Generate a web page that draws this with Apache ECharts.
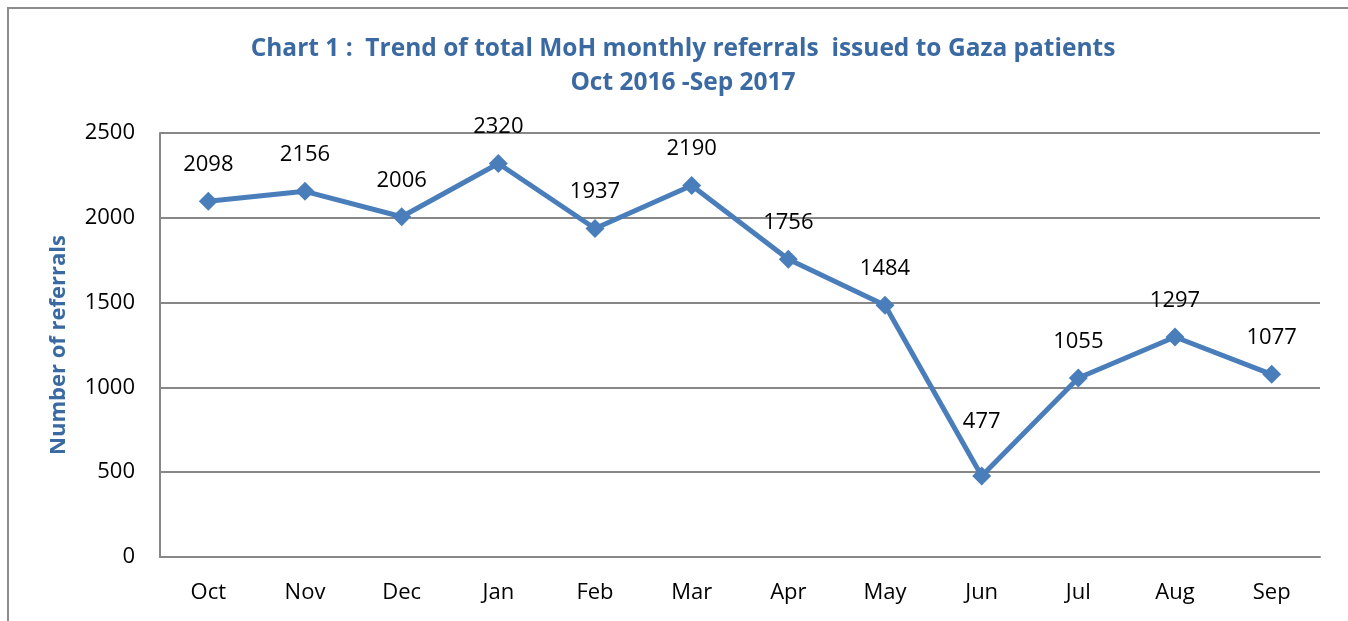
<!DOCTYPE html>
<html><head><meta charset="utf-8">
<script src="https://cdn.jsdelivr.net/npm/echarts@6/dist/echarts.min.js"></script>
<style>
html,body{margin:0;padding:0;background:#fff;}
#frame{position:absolute;left:7px;top:7px;width:1400px;height:700px;border:2px solid #8c8c8c;box-sizing:border-box;}
#c{position:absolute;left:0;top:0;width:1348px;height:621px;}
</style></head>
<body>
<div id="frame"></div>
<div id="c"></div>
<script>
const months = ['Oct','Nov','Dec','Jan','Feb','Mar','Apr','May','Jun','Jul','Aug','Sep'];
const referrals = [2098,2156,2006,2320,1937,2190,1756,1484,477,1055,1297,1077];
const yTicks = [0,500,1000,1500,2000,2500];
const titleText = 'Chart 1 :  Trend of total MoH monthly referrals  issued to Gaza patients\nOct 2016 -Sep 2017';
const yName = 'Number of referrals';

const chart = echarts.init(document.getElementById('c'));
const font = 'Open Sans';
// Label for the Jun point sits higher to clear the V of the line
const seriesData = referrals.map((v, i) => months[i] === 'Jun'
  ? {value: v, label: {distance: 34}}
  : v);
chart.setOption({
  backgroundColor: 'transparent',
  animation: false,
  title: {
    text: titleText, left: 678, top: 27, textAlign: 'center',
    textStyle: {fontFamily: font, fontWeight: 'bold', fontSize: 24.5, color: '#3b6aa2', lineHeight: 34}
  },
  grid: {left: 160, right: 28, top: 133, bottom: 64},
  xAxis: {
    type: 'category', data: months, boundaryGap: true,
    axisLine: {lineStyle: {color: '#878787', width: 2}},
    axisTick: {show: false},
    axisLabel: {fontFamily: font, fontSize: 22, color: '#000', margin: 25}
  },
  yAxis: {
    type: 'value', min: yTicks[0], max: yTicks[yTicks.length-1], interval: 500,
    name: yName, nameLocation: 'middle', nameGap: 90, nameRotate: 90,
    nameTextStyle: {fontFamily: font, fontWeight: 'bold', fontSize: 22, color: '#3b6aa2'},
    axisLine: {show: true, lineStyle: {color: '#878787', width: 2}},
    axisTick: {show: false},
    splitLine: {lineStyle: {color: '#878787', width: 2}},
    axisLabel: {fontFamily: font, fontSize: 22, color: '#000', margin: 25, formatter: v => String(v)}
  },
  series: [{
    type: 'line', data: seriesData,
    symbol: 'diamond', symbolSize: 19,
    lineStyle: {color: '#4a7ebb', width: 5},
    itemStyle: {color: '#4a7ebb'},
    label: {show: true, position: 'top', distance: 16, fontFamily: font, fontSize: 22, color: '#000'}
  }]
});
</script>
</body></html>
